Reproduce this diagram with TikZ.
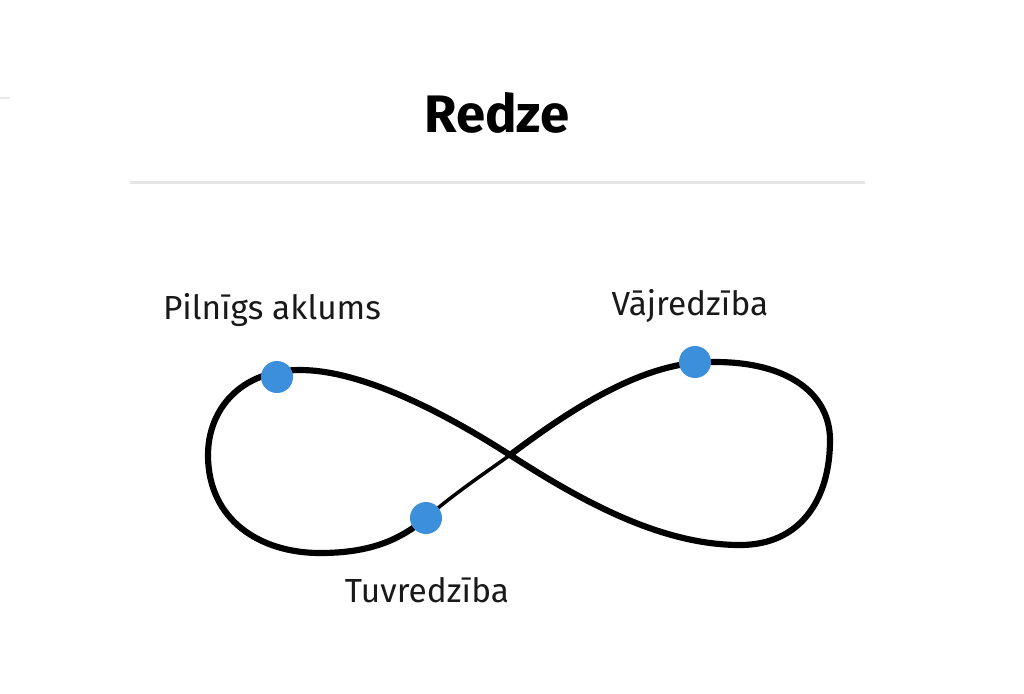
\documentclass[tikz,border=0pt]{standalone}
\usepackage{fontspec}
\setmainfont{Fira Sans}
\usepackage{xcolor}
\usetikzlibrary{positioning, calc}
\definecolor{dotblue}{HTML}{3B8FDB}
\definecolor{rulegray}{HTML}{E6E6E6}

\begin{document}
\begin{tikzpicture}[x=0.01cm, y=-0.01cm,
    lbl/.style={font=\fontsize{9.5}{11}\selectfont, text=black!90, inner sep=0pt},
    dot/.style={circle, fill=dotblue, minimum size=0.32cm, inner sep=0pt}]
    \useasboundingbox (0,0) rectangle (1024,693);
    \node[font=\fontsize{15}{18}\selectfont\bfseries, inner sep=0pt] (title) at (497,113) {Redze};
    \draw[rulegray, line width=0.85pt] (130,182) -- (865,182);
    \draw[rulegray, line width=0.5pt] (0,98) -- (10,98);
    % figure eight
    \coordinate (cross) at (510,455);
    \draw[line width=1.75pt] (cross) .. controls (580,402) and (650,360) .. (715,362)
        .. controls (790,362) and (830,395) .. (830,440)
        .. controls (830,500) and (800,545) .. (740,545)
        .. controls (660,545) and (580,500) .. (cross)
        .. controls (440,410) and (360,370) .. (300,370)
        .. controls (240,370) and (208,410) .. (208,455)
        .. controls (208,520) and (260,553) .. (320,553)
        .. controls (370,553) and (400,540) .. (426,518);
    \draw[line width=1pt] (426,518) .. controls (455,493) and (485,473) .. (cross);
    \node[dot] (blind) at (277,377) {};
    \node[dot] (far) at (695,362) {};
    \node[dot] (near) at (426,518) {};
    \node[lbl] (blindlbl) at (272,310) {Pilnīgs aklums};
    \node[lbl] (farlbl) at (690,306) {Vājredzība};
    \node[lbl] (nearlbl) at (427,590) {Tuvredzība};
\end{tikzpicture}
\end{document}
